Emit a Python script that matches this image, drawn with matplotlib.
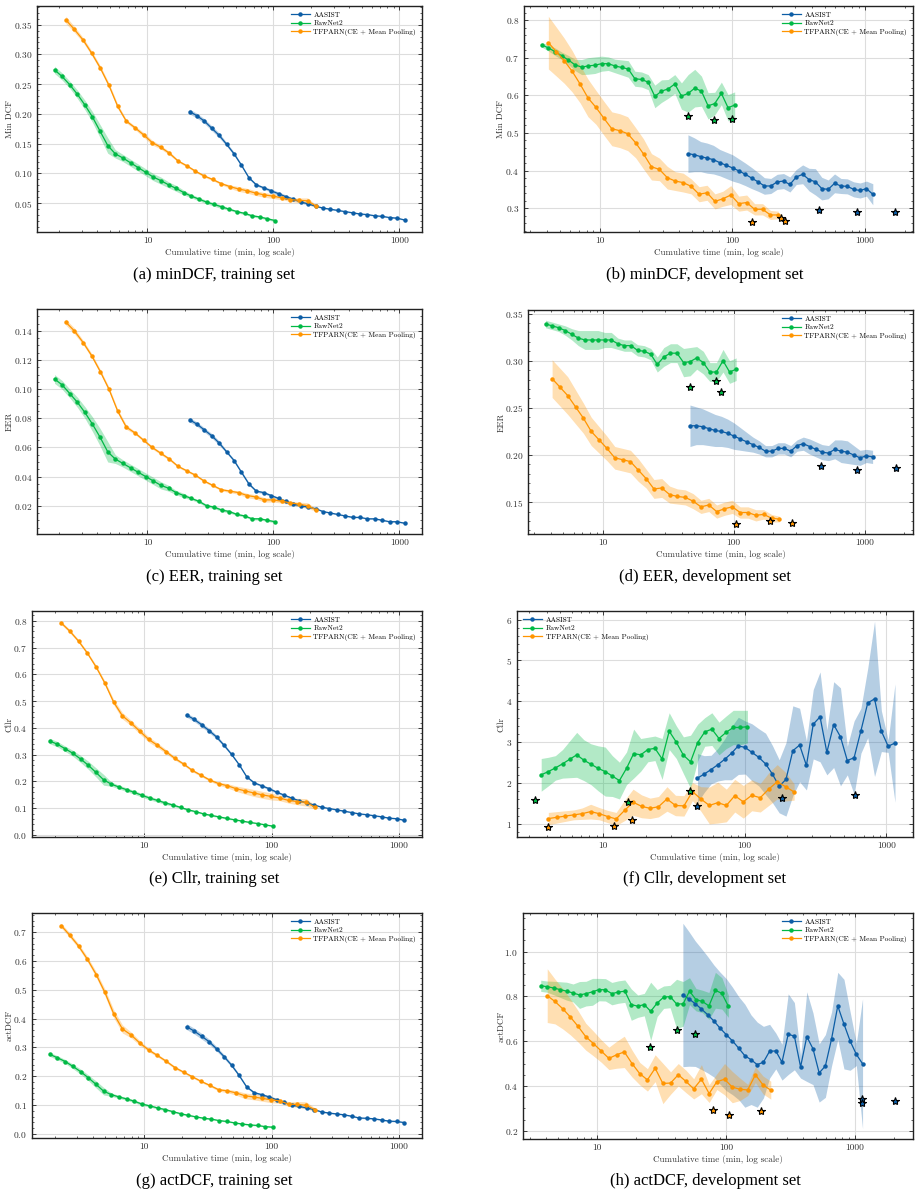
import matplotlib
matplotlib.use('Agg')
import matplotlib.pyplot as plt
import matplotlib.ticker as mticker
import numpy as np

plt.rcParams['font.family'] = 'serif'
plt.rcParams['font.serif'] = ['cmr10']
plt.rcParams['mathtext.fontset'] = 'cm'
plt.rcParams['axes.formatter.use_mathtext'] = True
plt.rcParams['axes.unicode_minus'] = False

names = ['AASIST', 'RawNet2', 'TFPARN(CE + Mean Pooling)']
colors = ['#0C5DA5', '#00B945', '#FF9500']

# cumulative time (min)
x_train_aasist = [21.6, 24.7, 28.3, 32.4, 37.1, 42.5, 48.7, 55.7, 63.8, 73.1, 83.7, 95.8, 109.7, 125.6, 143.8,
                  164.7, 188.6, 215.9, 247.2, 283.1, 324.1, 371.1, 424.9, 486.6, 557.1, 637.9, 730.4, 836.3, 957.6, 1096.4]
x_train_rawnet = [1.83, 2.10, 2.42, 2.78, 3.19, 3.66, 4.21, 4.84, 5.56, 6.39, 7.34, 8.43, 9.69, 11.13, 12.79,
                  14.70, 16.89, 19.40, 22.29, 25.61, 29.43, 33.82, 38.85, 44.64, 51.30, 58.94, 67.72, 77.81, 89.41, 102.7]
x_train_tfparn = [2.25, 2.63, 3.09, 3.61, 4.23, 4.95, 5.80, 6.79, 7.95, 9.31, 10.90, 12.77, 14.95, 17.50, 20.50,
                  24.00, 28.11, 32.91, 38.54, 45.13, 52.85, 61.89, 72.47, 84.86, 99.37, 116.4, 136.3, 159.6, 186.9, 218.8]
x_dev_aasist = [46.4, 51.8, 57.9, 64.7, 72.2, 80.7, 90.1, 100.7, 112.5, 125.6, 140.3, 156.8, 175.1, 195.6, 218.5,
                244.1, 272.6, 304.6, 340.2, 380.0, 424.5, 474.2, 529.7, 591.7, 661.0, 738.4, 824.8, 921.4, 1029, 1150]
x_dev_rawnet = [3.66, 4.11, 4.61, 5.18, 5.81, 6.52, 7.32, 8.22, 9.23, 10.36, 11.63, 13.05, 14.65, 16.45, 18.46,
                20.72, 23.26, 26.11, 29.31, 32.90, 36.93, 41.46, 46.54, 52.24, 58.64, 65.82, 73.89, 82.94, 93.10, 104.5]
x_dev_tfparn = [4.11, 4.72, 5.41, 6.21, 7.13, 8.18, 9.39, 10.78, 12.37, 14.20, 16.29, 18.70, 21.46, 24.63, 28.27,
                32.45, 37.24, 42.74, 49.05, 56.30, 64.61, 74.16, 85.11, 97.68, 112.1, 128.7, 147.7, 169.5, 194.5, 223.2]

# ---- training set ----
mindcf_tr_aasist = [0.204, 0.197, 0.188, 0.176, 0.164, 0.149, 0.133, 0.114, 0.093, 0.081, 0.076, 0.071, 0.066, 0.061, 0.057,
                    0.052, 0.049, 0.045, 0.042, 0.040, 0.038, 0.036, 0.034, 0.032, 0.031, 0.029, 0.028, 0.026, 0.025, 0.022]
mindcf_tr_rawnet = [0.274, 0.263, 0.249, 0.233, 0.215, 0.195, 0.171, 0.147, 0.133, 0.126, 0.118, 0.110, 0.102, 0.094, 0.088,
                    0.081, 0.075, 0.068, 0.062, 0.057, 0.052, 0.048, 0.044, 0.040, 0.036, 0.033, 0.029, 0.027, 0.024, 0.021]
mindcf_tr_tfparn = [0.358, 0.342, 0.324, 0.302, 0.277, 0.248, 0.213, 0.188, 0.177, 0.165, 0.152, 0.144, 0.134, 0.121, 0.113,
                    0.104, 0.096, 0.090, 0.083, 0.078, 0.074, 0.071, 0.067, 0.064, 0.062, 0.059, 0.056, 0.055, 0.054, 0.045]
mindcf_tr_aasist_sd = [0.004, 0.004, 0.004, 0.004, 0.004, 0.003, 0.003, 0.002, 0.002, 0.002, 0.002, 0.003, 0.003, 0.003, 0.002,
                       0.002, 0.002, 0.001, 0.001, 0.001, 0.001, 0.001, 0.001, 0.001, 0.001, 0.001, 0.001, 0.001, 0.001, 0.001]
mindcf_tr_rawnet_sd = [0.006, 0.006, 0.006, 0.007, 0.008, 0.009, 0.011, 0.013, 0.007, 0.006, 0.006, 0.006, 0.006, 0.006, 0.006,
                       0.005, 0.005, 0.004, 0.003, 0.003, 0.003, 0.003, 0.003, 0.002, 0.002, 0.002, 0.002, 0.002, 0.002, 0.002]
mindcf_tr_tfparn_sd = [0.006, 0.005, 0.004, 0.004, 0.004, 0.004, 0.004, 0.003, 0.003, 0.004, 0.004, 0.003, 0.003, 0.002, 0.002,
                       0.002, 0.002, 0.002, 0.002, 0.003, 0.004, 0.004, 0.004, 0.004, 0.004, 0.003, 0.003, 0.004, 0.005, 0.002]

eer_tr_aasist = [0.079, 0.076, 0.072, 0.068, 0.063, 0.057, 0.051, 0.043, 0.035, 0.030, 0.029, 0.027, 0.025, 0.023, 0.021,
                 0.020, 0.019, 0.018, 0.016, 0.015, 0.014, 0.013, 0.012, 0.012, 0.011, 0.011, 0.010, 0.009, 0.009, 0.008]
eer_tr_rawnet = [0.107, 0.103, 0.097, 0.091, 0.084, 0.076, 0.067, 0.057, 0.052, 0.049, 0.046, 0.043, 0.040, 0.037, 0.034,
                 0.032, 0.029, 0.027, 0.025, 0.023, 0.020, 0.019, 0.017, 0.016, 0.014, 0.013, 0.011, 0.011, 0.010, 0.009]
eer_tr_tfparn = [0.146, 0.140, 0.132, 0.123, 0.112, 0.100, 0.085, 0.074, 0.070, 0.065, 0.060, 0.056, 0.052, 0.047, 0.044,
                 0.041, 0.037, 0.034, 0.031, 0.030, 0.029, 0.027, 0.026, 0.024, 0.024, 0.023, 0.022, 0.021, 0.020, 0.017]
eer_tr_aasist_sd = [0.0015, 0.0015, 0.0015, 0.0015, 0.0015, 0.001, 0.001, 0.001, 0.001, 0.0008, 0.0008, 0.0008, 0.001, 0.001, 0.0008,
                    0.0006, 0.0005, 0.0004, 0.0004, 0.0004, 0.0004, 0.0004, 0.0004, 0.0004, 0.0004, 0.0004, 0.0004, 0.0004, 0.0004, 0.0004]
eer_tr_rawnet_sd = [0.003, 0.003, 0.003, 0.0035, 0.004, 0.005, 0.006, 0.007, 0.003, 0.0025, 0.0025, 0.0025, 0.0025, 0.0025, 0.0025,
                    0.002, 0.0015, 0.0015, 0.001, 0.001, 0.001, 0.001, 0.001, 0.001, 0.0008, 0.0008, 0.0008, 0.0008, 0.0008, 0.0008]
eer_tr_tfparn_sd = [0.002, 0.002, 0.0015, 0.0015, 0.0015, 0.0015, 0.0015, 0.0015, 0.001, 0.001, 0.001, 0.001, 0.001, 0.0008, 0.0008,
                    0.0008, 0.0008, 0.0008, 0.0008, 0.001, 0.0012, 0.0015, 0.0015, 0.0015, 0.0015, 0.0012, 0.0012, 0.0015, 0.002, 0.0008]

cllr_tr_aasist = [0.448, 0.432, 0.412, 0.390, 0.366, 0.335, 0.301, 0.263, 0.218, 0.195, 0.184, 0.173, 0.160, 0.149, 0.138,
                  0.128, 0.120, 0.112, 0.104, 0.099, 0.094, 0.089, 0.084, 0.079, 0.076, 0.072, 0.068, 0.063, 0.061, 0.055]
cllr_tr_rawnet = [0.351, 0.339, 0.322, 0.305, 0.284, 0.261, 0.234, 0.206, 0.190, 0.179, 0.169, 0.159, 0.148, 0.138, 0.129,
                  0.120, 0.112, 0.103, 0.094, 0.087, 0.079, 0.073, 0.068, 0.062, 0.057, 0.052, 0.047, 0.043, 0.038, 0.033]
cllr_tr_tfparn = [0.792, 0.761, 0.723, 0.679, 0.627, 0.567, 0.496, 0.445, 0.418, 0.387, 0.357, 0.335, 0.311, 0.286, 0.265,
                  0.241, 0.223, 0.205, 0.192, 0.184, 0.173, 0.165, 0.157, 0.150, 0.144, 0.138, 0.129, 0.125, 0.122, 0.104]
cllr_tr_aasist_sd = [0.008, 0.008, 0.008, 0.008, 0.007, 0.006, 0.005, 0.004, 0.004, 0.004, 0.004, 0.005, 0.005, 0.004, 0.004,
                     0.003, 0.003, 0.003, 0.002, 0.002, 0.002, 0.002, 0.002, 0.002, 0.002, 0.002, 0.002, 0.002, 0.002, 0.002]
cllr_tr_rawnet_sd = [0.01, 0.01, 0.01, 0.011, 0.013, 0.015, 0.017, 0.02, 0.008, 0.007, 0.007, 0.007, 0.007, 0.007, 0.006,
                     0.006, 0.005, 0.004, 0.004, 0.003, 0.003, 0.003, 0.003, 0.003, 0.002, 0.002, 0.002, 0.002, 0.002, 0.002]
cllr_tr_tfparn_sd = [0.006, 0.006, 0.006, 0.006, 0.007, 0.008, 0.01, 0.012, 0.01, 0.01, 0.01, 0.009, 0.008, 0.006, 0.005,
                     0.005, 0.005, 0.005, 0.006, 0.008, 0.01, 0.012, 0.013, 0.013, 0.013, 0.01, 0.01, 0.012, 0.014, 0.008]

actdcf_tr_aasist = [0.372, 0.357, 0.339, 0.320, 0.295, 0.268, 0.238, 0.203, 0.163, 0.143, 0.136, 0.128, 0.118, 0.109, 0.100,
                    0.095, 0.090, 0.084, 0.076, 0.072, 0.069, 0.066, 0.061, 0.055, 0.054, 0.052, 0.048, 0.044, 0.043, 0.039]
actdcf_tr_rawnet = [0.276, 0.264, 0.251, 0.234, 0.216, 0.195, 0.172, 0.148, 0.136, 0.128, 0.121, 0.113, 0.103, 0.097, 0.090,
                    0.084, 0.077, 0.070, 0.064, 0.059, 0.054, 0.051, 0.046, 0.043, 0.038, 0.034, 0.031, 0.029, 0.025, 0.023]
actdcf_tr_tfparn = [0.723, 0.689, 0.651, 0.606, 0.553, 0.491, 0.417, 0.364, 0.343, 0.315, 0.291, 0.272, 0.252, 0.230, 0.214,
                    0.198, 0.182, 0.168, 0.153, 0.149, 0.142, 0.132, 0.128, 0.123, 0.118, 0.114, 0.103, 0.102, 0.099, 0.084]
actdcf_tr_aasist_sd = [0.01, 0.01, 0.01, 0.009, 0.008, 0.007, 0.006, 0.005, 0.004, 0.004, 0.004, 0.005, 0.005, 0.004, 0.003,
                       0.003, 0.003, 0.003, 0.002, 0.002, 0.002, 0.002, 0.002, 0.002, 0.002, 0.002, 0.002, 0.002, 0.002, 0.002]
actdcf_tr_rawnet_sd = [0.007, 0.007, 0.007, 0.008, 0.009, 0.01, 0.012, 0.013, 0.006, 0.005, 0.005, 0.005, 0.005, 0.004, 0.004,
                       0.004, 0.003, 0.003, 0.003, 0.002, 0.002, 0.002, 0.002, 0.002, 0.002, 0.002, 0.002, 0.002, 0.002, 0.002]
actdcf_tr_tfparn_sd = [0.008, 0.008, 0.008, 0.009, 0.01, 0.012, 0.014, 0.014, 0.01, 0.008, 0.006, 0.005, 0.005, 0.005, 0.004,
                       0.004, 0.004, 0.004, 0.005, 0.006, 0.008, 0.01, 0.01, 0.01, 0.01, 0.008, 0.008, 0.01, 0.012, 0.006]

# ---- development set ----
mindcf_dev_aasist = [0.445, 0.442, 0.437, 0.433, 0.429, 0.421, 0.414, 0.407, 0.399, 0.390, 0.380, 0.370, 0.359, 0.359, 0.370,
                     0.372, 0.363, 0.383, 0.390, 0.376, 0.370, 0.352, 0.350, 0.366, 0.359, 0.358, 0.350, 0.347, 0.352, 0.337]
mindcf_dev_rawnet = [0.734, 0.726, 0.716, 0.705, 0.694, 0.681, 0.675, 0.678, 0.680, 0.684, 0.684, 0.678, 0.674, 0.670, 0.644,
                     0.642, 0.635, 0.597, 0.611, 0.617, 0.630, 0.598, 0.605, 0.619, 0.611, 0.572, 0.578, 0.605, 0.567, 0.574]
mindcf_dev_tfparn = [0.740, 0.716, 0.692, 0.664, 0.630, 0.593, 0.568, 0.539, 0.511, 0.506, 0.498, 0.474, 0.444, 0.410, 0.403,
                     0.381, 0.372, 0.368, 0.358, 0.337, 0.341, 0.318, 0.325, 0.335, 0.312, 0.315, 0.297, 0.297, 0.282, 0.282]
mindcf_dev_aasist_sd = [0.05, 0.045, 0.04, 0.04, 0.038, 0.035, 0.035, 0.035, 0.032, 0.03, 0.028, 0.025, 0.022, 0.02, 0.02,
                        0.02, 0.02, 0.02, 0.025, 0.03, 0.035, 0.03, 0.025, 0.025, 0.02, 0.02, 0.02, 0.02, 0.02, 0.028]
mindcf_dev_rawnet_sd = [0.006, 0.008, 0.01, 0.01, 0.012, 0.015, 0.02, 0.022, 0.022, 0.02, 0.018, 0.018, 0.02, 0.022, 0.02,
                        0.02, 0.02, 0.03, 0.03, 0.025, 0.025, 0.035, 0.05, 0.05, 0.04, 0.035, 0.03, 0.03, 0.035, 0.035]
mindcf_dev_tfparn_sd = [0.07, 0.065, 0.06, 0.055, 0.05, 0.05, 0.045, 0.045, 0.045, 0.045, 0.045, 0.04, 0.04, 0.035, 0.03,
                        0.03, 0.025, 0.025, 0.02, 0.02, 0.02, 0.02, 0.02, 0.025, 0.02, 0.02, 0.015, 0.015, 0.012, 0.01]

eer_dev_aasist = [0.231, 0.231, 0.230, 0.228, 0.226, 0.225, 0.223, 0.220, 0.217, 0.214, 0.211, 0.208, 0.204, 0.204, 0.207,
                  0.207, 0.204, 0.210, 0.212, 0.209, 0.206, 0.203, 0.202, 0.206, 0.204, 0.203, 0.200, 0.197, 0.199, 0.198]
eer_dev_rawnet = [0.339, 0.337, 0.335, 0.332, 0.328, 0.324, 0.322, 0.322, 0.322, 0.322, 0.322, 0.318, 0.316, 0.316, 0.311,
                  0.310, 0.307, 0.296, 0.304, 0.308, 0.308, 0.298, 0.299, 0.303, 0.298, 0.288, 0.288, 0.300, 0.288, 0.291]
eer_dev_tfparn = [0.281, 0.272, 0.263, 0.251, 0.239, 0.225, 0.216, 0.207, 0.197, 0.195, 0.193, 0.184, 0.175, 0.164, 0.165,
                  0.158, 0.156, 0.155, 0.151, 0.145, 0.147, 0.140, 0.143, 0.145, 0.139, 0.139, 0.136, 0.137, 0.133, 0.132]
eer_dev_aasist_sd = [0.022, 0.02, 0.019, 0.018, 0.017, 0.016, 0.015, 0.014, 0.012, 0.01, 0.008, 0.007, 0.006, 0.006, 0.006,
                     0.006, 0.006, 0.006, 0.007, 0.008, 0.008, 0.008, 0.008, 0.01, 0.012, 0.012, 0.01, 0.008, 0.007, 0.007]
eer_dev_rawnet_sd = [0.004, 0.004, 0.004, 0.005, 0.006, 0.008, 0.01, 0.01, 0.01, 0.008, 0.008, 0.006, 0.006, 0.006, 0.006,
                     0.006, 0.006, 0.008, 0.01, 0.01, 0.01, 0.015, 0.015, 0.012, 0.012, 0.01, 0.01, 0.012, 0.012, 0.012]
eer_dev_tfparn_sd = [0.02, 0.02, 0.02, 0.018, 0.016, 0.015, 0.014, 0.013, 0.012, 0.012, 0.012, 0.012, 0.01, 0.01, 0.01,
                     0.009, 0.008, 0.008, 0.008, 0.007, 0.007, 0.007, 0.007, 0.007, 0.006, 0.006, 0.006, 0.005, 0.004, 0.003]

cllr_dev_aasist = [2.12, 2.22, 2.33, 2.45, 2.58, 2.73, 2.91, 2.87, 2.75, 2.63, 2.47, 2.22, 1.92, 2.09, 2.79,
                   2.93, 2.43, 3.44, 3.62, 2.75, 3.43, 3.13, 2.55, 2.62, 3.28, 3.96, 4.06, 3.27, 2.90, 2.98]
cllr_dev_rawnet = [2.20, 2.28, 2.37, 2.47, 2.58, 2.69, 2.56, 2.46, 2.36, 2.28, 2.17, 2.06, 2.36, 2.72, 2.69,
                   2.82, 2.85, 2.59, 3.27, 3.00, 2.68, 2.52, 2.99, 3.25, 3.32, 3.09, 3.24, 3.36, 3.36, 3.38]
cllr_dev_tfparn = [1.13, 1.16, 1.19, 1.22, 1.25, 1.30, 1.25, 1.18, 1.12, 1.33, 1.53, 1.43, 1.38, 1.42, 1.61,
                   1.45, 1.44, 1.79, 1.61, 1.45, 1.52, 1.45, 1.69, 1.54, 1.70, 1.64, 1.85, 2.03, 1.91, 1.78]
cllr_dev_aasist_sd = [0.6, 0.45, 0.35, 0.4, 0.5, 0.65, 0.7, 0.65, 0.7, 0.7, 0.75, 0.7, 0.65, 0.9, 1.1,
                      0.9, 0.6, 0.85, 1.1, 0.55, 1.05, 1.2, 0.35, 0.9, 0.55, 0.85, 1.9, 0.5, 0.15, 1.45]
cllr_dev_rawnet_sd = [0.4, 0.35, 0.3, 0.35, 0.45, 0.55, 0.5, 0.5, 0.55, 0.6, 0.5, 0.45, 0.4, 0.6, 0.4,
                      0.3, 0.3, 0.5, 0.45, 0.4, 0.45, 0.65, 0.45, 0.35, 0.4, 0.4, 0.4, 0.42, 0.42, 0.4]
cllr_dev_tfparn_sd = [0.15, 0.14, 0.13, 0.12, 0.14, 0.18, 0.15, 0.15, 0.16, 0.25, 0.32, 0.28, 0.25, 0.25, 0.3,
                      0.25, 0.25, 0.22, 0.3, 0.45, 0.5, 0.4, 0.4, 0.4, 0.38, 0.35, 0.4, 0.42, 0.35, 0.2]

actdcf_dev_aasist = [0.806, 0.788, 0.767, 0.743, 0.718, 0.690, 0.658, 0.629, 0.601, 0.569, 0.535, 0.517, 0.495, 0.506, 0.555,
                     0.556, 0.506, 0.631, 0.622, 0.485, 0.620, 0.566, 0.458, 0.489, 0.610, 0.757, 0.676, 0.600, 0.541, 0.499]
actdcf_dev_rawnet = [0.847, 0.843, 0.837, 0.830, 0.823, 0.815, 0.806, 0.812, 0.820, 0.830, 0.829, 0.812, 0.819, 0.823, 0.763,
                     0.756, 0.763, 0.733, 0.770, 0.796, 0.799, 0.766, 0.766, 0.823, 0.785, 0.777, 0.757, 0.827, 0.813, 0.756]
actdcf_dev_tfparn = [0.803, 0.777, 0.745, 0.708, 0.666, 0.620, 0.589, 0.556, 0.523, 0.539, 0.552, 0.500, 0.455, 0.427, 0.479,
                     0.411, 0.413, 0.450, 0.420, 0.387, 0.430, 0.366, 0.419, 0.430, 0.395, 0.385, 0.382, 0.450, 0.404, 0.381]
actdcf_dev_aasist_sd = [0.32, 0.3, 0.28, 0.27, 0.26, 0.25, 0.25, 0.25, 0.24, 0.23, 0.23, 0.2, 0.19, 0.16, 0.12,
                        0.08, 0.08, 0.18, 0.15, 0.05, 0.2, 0.16, 0.13, 0.14, 0.12, 0.15, 0.2, 0.13, 0.05, 0.29]
actdcf_dev_rawnet_sd = [0.025, 0.025, 0.03, 0.035, 0.04, 0.04, 0.06, 0.055, 0.06, 0.05, 0.05, 0.05, 0.05, 0.05, 0.07,
                        0.05, 0.05, 0.13, 0.06, 0.05, 0.05, 0.11, 0.1, 0.06, 0.05, 0.05, 0.06, 0.08, 0.07, 0.05]
actdcf_dev_tfparn_sd = [0.12, 0.1, 0.09, 0.08, 0.07, 0.06, 0.055, 0.05, 0.05, 0.06, 0.07, 0.06, 0.05, 0.05, 0.06,
                        0.09, 0.05, 0.05, 0.05, 0.045, 0.065, 0.04, 0.035, 0.07, 0.07, 0.05, 0.025, 0.035, 0.04, 0.04]

# star markers on dev plots (model index: 0 AASIST, 1 RawNet2, 2 TFPARN)
star_model = [1, 1, 1, 2, 2, 2, 0, 0, 0]
mindcf_star_x = [46.4, 73.4, 100, 140, 233, 250, 455, 870, 1700]
mindcf_star_y = [0.544, 0.534, 0.536, 0.264, 0.273, 0.266, 0.295, 0.291, 0.290]
eer_star_x = [46.2, 73.1, 79.9, 104.8, 189, 280, 462, 870, 1720]
eer_star_y = [0.272, 0.278, 0.267, 0.127, 0.130, 0.128, 0.188, 0.184, 0.186]
cllr_star_x = [3.31, 15.1, 41.1, 4.09, 12.0, 16.1, 46.4, 183, 596]
cllr_star_y = [1.58, 1.53, 1.80, 0.93, 0.94, 1.10, 1.43, 1.63, 1.71]
actdcf_star_x = [25.8, 41.5, 57.6, 79.9, 105, 188, 1146, 1146, 2063]
actdcf_star_y = [0.575, 0.650, 0.634, 0.291, 0.272, 0.289, 0.340, 0.325, 0.333]

W, H = 920, 1196
fig = plt.figure(figsize=(W / 100, H / 100), dpi=100)


def panel(box, ylab_px, xs, ys, sds, ylabel, ystep, caption, cap_xy, star_x=None, star_y=None,
          leg_loc='upper right'):
    l, r, t, b = box
    ax = fig.add_axes([l / W, 1 - b / H, (r - l) / W, (b - t) / H])
    for i in range(3):
        x = np.array(xs[i])
        y = np.array(ys[i])
        s = np.array(sds[i])
        ax.fill_between(x, y - s, y + s, color=colors[i], alpha=0.3, lw=0)
        ax.plot(x, y, '-o', color=colors[i], lw=0.9, ms=2.2, label=names[i])
    if star_x is not None:
        for sx, sy, m in zip(star_x, star_y, star_model):
            ax.plot(sx, sy, '*', ms=6, mfc=colors[m], mec='black', mew=0.8, zorder=5)
    ax.set_xscale('log')
    ax.xaxis.set_major_formatter(mticker.FuncFormatter(lambda v, p: f'{v:g}'))
    ax.yaxis.set_major_locator(mticker.MultipleLocator(ystep))
    ax.yaxis.set_minor_locator(mticker.AutoMinorLocator())
    ax.grid(True, which='major', color='#dddddd', lw=0.8)
    ax.set_axisbelow(True)
    ax.tick_params(which='both', direction='in', top=True, right=True, labelsize=6.8, colors='#222222',
                   labelcolor='#333333')
    ax.tick_params(which='major', length=3, width=0.6)
    ax.tick_params(which='minor', length=1.5, width=0.5)
    for sp in ax.spines.values():
        sp.set_linewidth(1.0)
        sp.set_color('#222222')
    ax.set_xlabel('Cumulative time (min, log scale)', fontsize=6.5, color='#333333', labelpad=2)
    ax.set_ylabel(ylabel, fontsize=6.5, color='#333333')
    ax.yaxis.set_label_coords((ylab_px - l) / (r - l), 0.5)
    ax.legend(loc=leg_loc, frameon=False, fontsize=5.3, handlelength=2.6, handletextpad=0.5,
              labelspacing=0.3, borderaxespad=0.4)
    fig.text(cap_xy[0] / W, 1 - cap_xy[1] / H, caption, ha='center', va='center',
             fontsize=12, family='Liberation Serif')
    return ax


tr_x = [x_train_aasist, x_train_rawnet, x_train_tfparn]
dv_x = [x_dev_aasist, x_dev_rawnet, x_dev_tfparn]

panel((37, 422, 6, 232), 14, tr_x, [mindcf_tr_aasist, mindcf_tr_rawnet, mindcf_tr_tfparn],
      [mindcf_tr_aasist_sd, mindcf_tr_rawnet_sd, mindcf_tr_tfparn_sd], 'Min DCF', 0.05,
      '(a) minDCF, training set', (214, 275))
panel((524, 913, 6, 232), 505, dv_x, [mindcf_dev_aasist, mindcf_dev_rawnet, mindcf_dev_tfparn],
      [mindcf_dev_aasist_sd, mindcf_dev_rawnet_sd, mindcf_dev_tfparn_sd], 'Min DCF', 0.1,
      '(b) minDCF, development set', (705, 275), mindcf_star_x, mindcf_star_y)
panel((37, 422, 309, 534), 14, tr_x, [eer_tr_aasist, eer_tr_rawnet, eer_tr_tfparn],
      [eer_tr_aasist_sd, eer_tr_rawnet_sd, eer_tr_tfparn_sd], 'EER', 0.02,
      '(c) EER, training set', (214, 577))
panel((528, 913, 310, 534), 506, dv_x, [eer_dev_aasist, eer_dev_rawnet, eer_dev_tfparn],
      [eer_dev_aasist_sd, eer_dev_rawnet_sd, eer_dev_tfparn_sd], 'EER', 0.05,
      '(d) EER, development set', (705, 577), eer_star_x, eer_star_y)
panel((32, 422, 611, 837), 14, tr_x, [cllr_tr_aasist, cllr_tr_rawnet, cllr_tr_tfparn],
      [cllr_tr_aasist_sd, cllr_tr_rawnet_sd, cllr_tr_tfparn_sd], 'Cllr', 0.1,
      '(e) Cllr, training set', (214, 879))
panel((517, 913, 611, 837), 506, dv_x, [cllr_dev_aasist, cllr_dev_rawnet, cllr_dev_tfparn],
      [cllr_dev_aasist_sd, cllr_dev_rawnet_sd, cllr_dev_tfparn_sd], 'Cllr', 1,
      '(f) Cllr, development set', (705, 879), cllr_star_x, cllr_star_y, leg_loc='upper left')
panel((32, 422, 913, 1138), 14, tr_x, [actdcf_tr_aasist, actdcf_tr_rawnet, actdcf_tr_tfparn],
      [actdcf_tr_aasist_sd, actdcf_tr_rawnet_sd, actdcf_tr_tfparn_sd], 'actDCF', 0.1,
      '(g) actDCF, training set', (214, 1181))
panel((523, 913, 913, 1139), 506, dv_x, [actdcf_dev_aasist, actdcf_dev_rawnet, actdcf_dev_tfparn],
      [actdcf_dev_aasist_sd, actdcf_dev_rawnet_sd, actdcf_dev_tfparn_sd], 'actDCF', 0.2,
      '(h) actDCF, development set', (705, 1181), actdcf_star_x, actdcf_star_y)

fig.savefig('out.png', dpi=100)
